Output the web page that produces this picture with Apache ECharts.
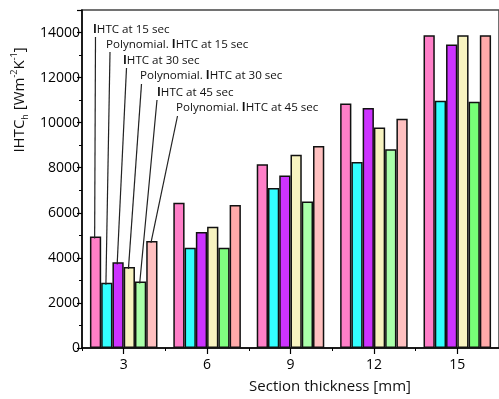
<!DOCTYPE html>
<html>
<head>
<meta charset="utf-8">
<script src="https://cdn.jsdelivr.net/npm/echarts@6/dist/echarts.min.js"></script>
<style>
html,body{margin:0;padding:0;background:#fff;}
#chart{width:499px;height:399px;}
</style>
</head>
<body>
<div id="chart"></div>
<script>
// ---- data ----
const categories = ['3', '6', '9', '12', '15'];
const ihtc15 = [4950, 6450, 8150, 10850, 13880];
const poly15 = [2900, 4450, 7100, 8250, 10970];
const ihtc30 = [3800, 5150, 7650, 10650, 13470];
const poly30 = [3600, 5380, 8580, 9780, 13880];
const ihtc45 = [2950, 4450, 6500, 8820, 10930];
const poly45 = [4750, 6350, 8970, 10170, 13880];
const seriesNames = ['IHTC at 15 sec', 'Polynomial. IHTC at 15 sec', 'IHTC at 30 sec',
  'Polynomial. IHTC at 30 sec', 'IHTC at 45 sec', 'Polynomial. IHTC at 45 sec'];
const xTitle = 'Section thickness [mm]';

// ---- styles ----
const seriesColors = [
  ['#ff7fc8', '#ff7fc8', '#ff7fc8', '#ff7fc8', '#ff7fc8'],
  ['#33ffff', '#33ffff', '#33ffff', '#33ffff', '#33ffff'],
  ['#cc33ff', '#cc33ff', '#cc33ff', '#cc33ff', '#cc33ff'],
  ['#f7f3c0', '#f7f3c0', '#f7f3c0', '#f7f3c0', '#f7f3c0'],
  ['#aaffaa', '#80ff80', '#aaffaa', '#aaffaa', '#77ff77'],
  ['#ffc0c0', '#ffaaaa', '#ffc0c0', '#ffc0c0', '#ffaaaa']
];
const labelPos = [[93, 30], [106, 45], [123, 61], [140, 76], [157, 93], [176, 108]];
const lineTop = [[95.5, 37], [110, 52], [126.5, 68], [141.5, 84], [157, 100], [177.5, 116]];

const allData = [ihtc15, poly15, ihtc30, poly30, ihtc45, poly45];
const FONT = 'Open Sans';

const chart = echarts.init(document.getElementById('chart'), null, {renderer: 'canvas'});

const series = allData.map((vals, i) => ({
  name: seriesNames[i],
  type: 'bar',
  xAxisIndex: 0,
  barGap: '0%',
  barCategoryGap: '19%',
  data: vals.map((v, j) => ({value: v, itemStyle: {color: seriesColors[i][j]}})),
  itemStyle: {borderColor: '#111', borderWidth: 1.5},
  emphasis: {disabled: true},
  animation: false
}));

const option = {
  animation: false,
  grid: {left: 82, top: 10, right: -1, bottom: 51, show: true, borderColor: '#444', borderWidth: 1.5, backgroundColor: 'transparent'},
  xAxis: [{
    type: 'category',
    data: categories,
    axisLine: {show: true, lineStyle: {color: '#000', width: 1.5}},
    axisTick: {show: true, alignWithLabel: true, length: 6, lineStyle: {color: '#000', width: 1.2}},
    axisLabel: {color: '#000', fontSize: 14, fontFamily: FONT, margin: 10},
    splitLine: {show: false}
  }, {
    type: 'category',
    data: categories,
    position: 'bottom',
    axisLine: {show: false},
    axisTick: {show: true, length: 3, lineStyle: {color: '#000', width: 1}},
    axisLabel: {show: false},
    splitLine: {show: false}
  }],
  yAxis: {
    type: 'value',
    min: 0,
    max: 15000,
    interval: 2000,
    axisLine: {show: true, lineStyle: {color: '#000', width: 1.5}},
    axisTick: {show: true, length: 5, lineStyle: {color: '#000', width: 1.2}},
    minorTick: {show: true, splitNumber: 2, length: 3, lineStyle: {color: '#000', width: 1}},
    axisLabel: {color: '#000', fontSize: 14, fontFamily: FONT, margin: 2, showMaxLabel: false,
      formatter: v => String(v)},
    splitLine: {show: false}
  },
  series: series
};
chart.setOption(option);

// annotations: leader lines from text labels to the bars of the first group
function drawAnnotations() {
  const graphics = [];
  const model = chart.getModel();
  seriesNames.forEach((name, i) => {
    const lay = model.getSeriesByIndex(i).getData().getItemLayout(0);
    const topY = Math.min(lay.y, lay.y + lay.height);
    const bx = lay.x + lay.width * 0.42;
    graphics.push({
      type: 'line',
      shape: {x1: lineTop[i][0], y1: lineTop[i][1], x2: bx, y2: topY + 2},
      style: {stroke: '#222', lineWidth: 1.2},
      z: 10
    });
    const parts = name.split('IHTC');
    graphics.push({
      type: 'text',
      x: labelPos[i][0],
      y: labelPos[i][1],
      style: {
        text: parts[0] + '{b|I}HTC' + parts[1],
        font: '11.6px "' + FONT + '"',
        fill: '#111',
        align: 'left',
        verticalAlign: 'middle',
        rich: {b: {fontWeight: 'bold', fontSize: 11.6, fontFamily: FONT, fill: '#111'}}
      },
      z: 10
    });
  });
  // y-axis title
  graphics.push({
    type: 'text',
    x: 20,
    y: 100,
    rotation: Math.PI / 2,
    style: {
      text: '{n|IHTC}{sub|h}{n| [Wm}{sup|-2}{n|K}{sup|-1}{n|]}',
      align: 'center',
      verticalAlign: 'middle',
      rich: {
        n: {fontSize: 15, fontFamily: FONT, fill: '#111', lineHeight: 20},
        sub: {fontSize: 9, fontFamily: FONT, fill: '#111', verticalAlign: 'bottom', lineHeight: 20},
        sup: {fontSize: 9, fontFamily: FONT, fill: '#111', verticalAlign: 'top', lineHeight: 20}
      }
    }
  });
  // x-axis title
  graphics.push({
    type: 'text',
    x: 330,
    y: 387,
    style: {
      text: xTitle,
      font: '15px "' + FONT + '"',
      fill: '#111',
      align: 'center',
      verticalAlign: 'middle'
    }
  });
  chart.setOption({graphic: graphics});
}
drawAnnotations();
</script>
</body>
</html>
